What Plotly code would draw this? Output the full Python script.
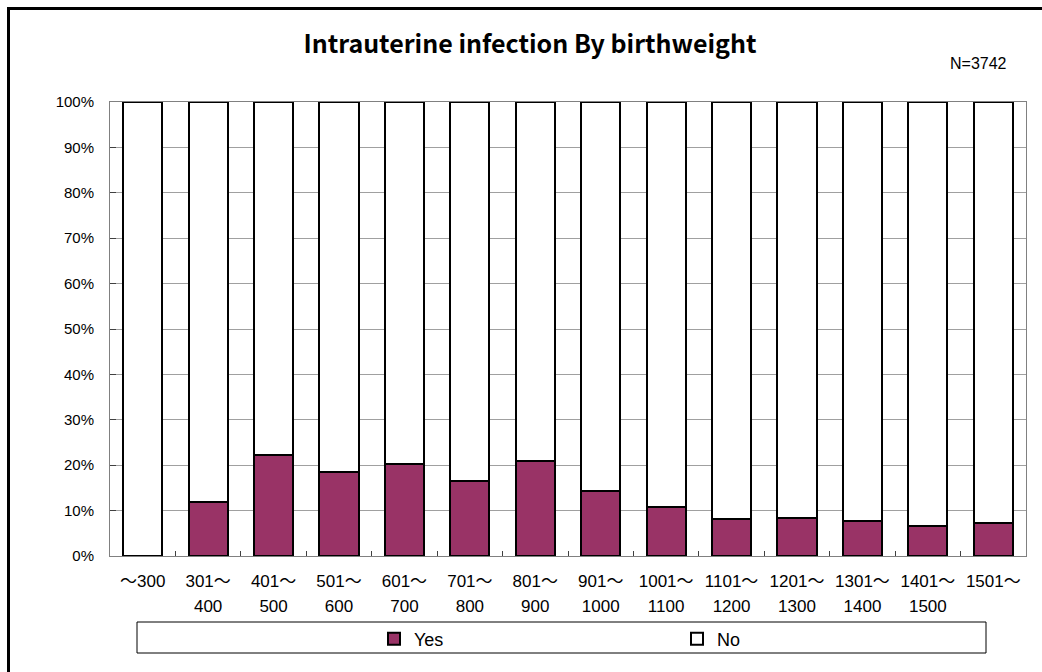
import plotly.graph_objects as go

# Birthweight classes (g), split into two label lines
categories = ["～300", "301～400", "401～500", "501～600", "601～700", "701～800",
              "801～900", "901～1000", "1001～1100", "1101～1200", "1201～1300",
              "1301～1400", "1401～1500", "1501～"]
label_line1 = ["～300", "301～", "401～", "501～", "601～", "701～", "801～", "901～",
               "1001～", "1101～", "1201～", "1301～", "1401～", "1501～"]
label_line2 = ["", "400", "500", "600", "700", "800", "900", "1000",
               "1100", "1200", "1300", "1400", "1500", ""]

# Share of infants with / without intrauterine infection (%)
yes_pct = [0.0, 11.9, 22.2, 18.5, 20.3, 16.6, 20.9, 14.3, 10.9, 8.1, 8.4, 7.7, 6.5, 7.2]
no_pct = [100.0, 88.1, 77.8, 81.5, 79.7, 83.4, 79.1, 85.7, 89.1, 91.9, 91.6, 92.3, 93.5, 92.8]

y_ticks = [0, 10, 20, 30, 40, 50, 60, 70, 80, 90, 100]
y_ticktext = [f"{v}%" for v in y_ticks]

positions = list(range(len(categories)))

fig = go.Figure()
fig.add_trace(go.Bar(
    x=positions, y=yes_pct, name="Yes", customdata=categories,
    marker=dict(color="#993366", line=dict(color="black", width=2)),
    hovertemplate="%{customdata}<br>Yes: %{y:.1f}%<extra></extra>",
))
fig.add_trace(go.Bar(
    x=positions, y=no_pct, name="No", customdata=categories,
    marker=dict(color="white", line=dict(color="black", width=2)),
    hovertemplate="%{customdata}<br>No: %{y:.1f}%<extra></extra>",
))
# carrier for the second line of category labels (no visible marks)
fig.add_trace(go.Scatter(
    x=positions, y=yes_pct, xaxis="x2", mode="markers",
    marker=dict(opacity=0), showlegend=False, hoverinfo="skip",
))

L, R, T, B = 110, 16, 102, 116
W, H = 1042, 672
pw, ph = W - L - R, H - T - B


def px_x(p):
    return (p - L) / pw


def px_y(p):
    return (H - B - p) / ph


label_font = dict(family="Liberation Sans, Arial, Noto Sans CJK JP", size=17, color="black")

fig.update_layout(
    width=W, height=H,
    margin=dict(l=L, r=R, t=T, b=B, pad=0),
    paper_bgcolor="white", plot_bgcolor="white",
    barmode="stack", bargap=0.4,
    showlegend=True,
    title=dict(
        text="Intrauterine infection By birthweight",
        font=dict(family="Noto Sans CJK JP", size=25, color="black", weight="bold"),
        x=px_x(530), xref="paper", xanchor="center",
        y=1 - 44 / H, yref="container", yanchor="middle",
    ),
    xaxis=dict(
        range=[-0.5, len(categories) - 0.5],
        tickmode="array", tickvals=positions, ticktext=label_line1,
        ticks="", tickfont=label_font, ticklabelstandoff=10,
        showline=True, linecolor="#808080", linewidth=1, mirror=True,
        showgrid=False, zeroline=False, fixedrange=True,
        minor=dict(tickmode="array", tickvals=[p + 0.5 for p in positions[:-1]],
                   ticks="inside", ticklen=5, tickcolor="#404040", tickwidth=1),
    ),
    xaxis2=dict(
        overlaying="x", anchor="y", side="bottom",
        range=[-0.5, len(categories) - 0.5],
        tickmode="array", tickvals=positions, ticktext=label_line2,
        ticks="", tickfont=label_font, ticklabelstandoff=38,
        showline=False, showgrid=False, zeroline=False, fixedrange=True,
    ),
    yaxis=dict(
        range=[0, 100], tickmode="array", tickvals=y_ticks, ticktext=y_ticktext,
        ticks="inside", ticklen=6, tickcolor="#404040",
        tickfont=dict(family="Liberation Sans, Arial", size=15, color="black"),
        ticklabelstandoff=12,
        showline=True, linecolor="#808080", linewidth=1, mirror=True,
        showgrid=True, gridcolor="#a0a0a0", gridwidth=1, zeroline=False, fixedrange=True,
    ),
    legend=dict(
        orientation="h", x=px_x(374), xanchor="left", y=px_y(639), yanchor="middle",
        xref="paper", yref="paper", traceorder="normal",
        font=dict(family="Liberation Sans, Arial", size=18, color="black"),
        bgcolor="rgba(0,0,0,0)", borderwidth=0,
        entrywidthmode="pixels", entrywidth=258, itemclick=False, itemdoubleclick=False,
    ),
    annotations=[dict(
        text="N=3742", xref="paper", yref="paper", x=px_x(1009), y=px_y(63),
        xanchor="right", yanchor="middle", showarrow=False,
        font=dict(family="Liberation Sans, Arial", size=16, color="black"),
    )],
    shapes=[
        # legend box
        dict(type="rect", xref="paper", yref="paper",
             x0=px_x(137), x1=px_x(986), y0=px_y(653), y1=px_y(622),
             line=dict(color="black", width=1), fillcolor="rgba(0,0,0,0)", layer="below"),
        # chart frame
        dict(type="rect", xref="paper", yref="paper",
             x0=px_x(8.5), x1=px_x(1060), y0=px_y(700), y1=px_y(8.5),
             line=dict(color="black", width=3), fillcolor="rgba(0,0,0,0)"),
    ],
)

fig.write_html("out.html")
